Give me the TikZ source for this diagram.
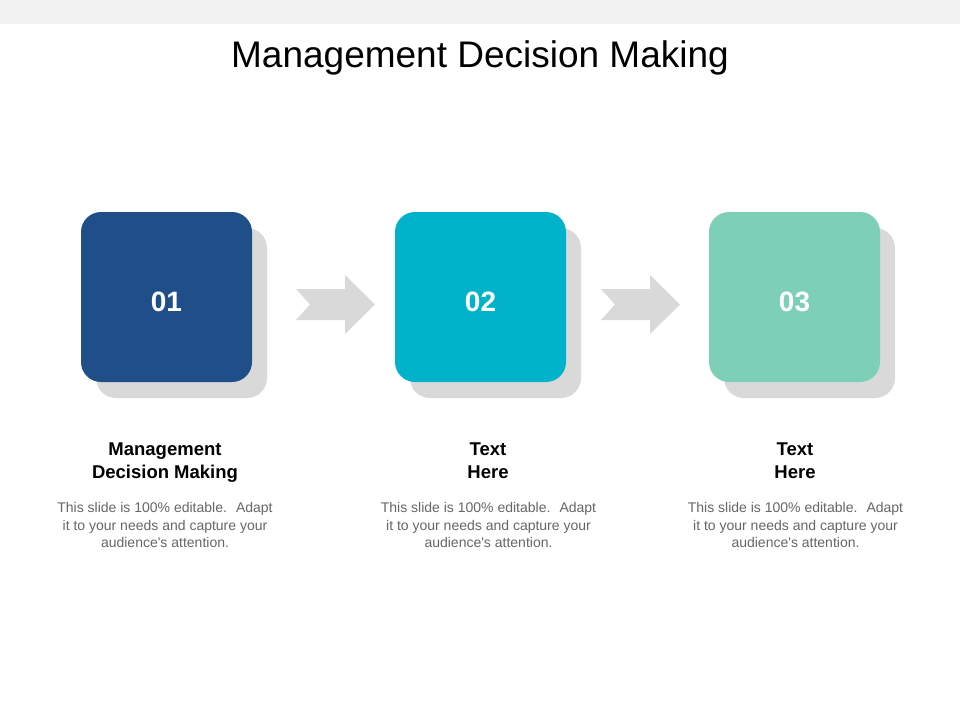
\documentclass[tikz,border=0pt]{standalone}
\usepackage{fontspec}
\setmainfont{Liberation Sans}[Ligatures=TeXOff]
\usetikzlibrary{shadows}
\definecolor{bandgray}{HTML}{F2F2F2}
\definecolor{shadowgray}{HTML}{D9D9D9}
\definecolor{cA}{HTML}{1F4E89}
\definecolor{cB}{HTML}{00B2CA}
\definecolor{cC}{HTML}{7DCFB6}
\definecolor{bodygray}{HTML}{666666}
\tikzset{
  stepbox/.style={minimum width=171pt, minimum height=170pt, inner sep=0pt,
    rounded corners=20pt, text=white, font=\fontsize{28}{30}\selectfont\bfseries,
    text height=28pt, text depth=0pt,
    drop shadow={shadow xshift=15pt, shadow yshift=-16pt, opacity=1, fill=shadowgray}},
  headtext/.style={align=center, font=\fontsize{18.5}{23}\selectfont\bfseries, text=black, inner sep=0pt},
  bodytext/.style={align=center, font=\fontsize{14}{17.5}\selectfont, text=bodygray, inner sep=0pt},
  blockarrow/.style={fill=shadowgray, draw=none}
}
\begin{document}
\begin{tikzpicture}[x=1pt,y=-1pt]
\useasboundingbox (0,0) rectangle (960,720);
\fill[white] (0,0) rectangle (960,720);
\fill[bandgray] (0,0) rectangle (960,24);
\node[font=\fontsize{37}{40}\selectfont, anchor=base, inner sep=0pt] (title) at (480,67) {Management Decision Making};

\node[stepbox, fill=cA] (b1) at (166.5,297) {01};
\node[stepbox, fill=cB] (b2) at (480.5,297) {02};
\node[stepbox, fill=cC] (b3) at (794.5,297) {03};

\foreach \ax in {296,601}{
  \fill[blockarrow] (\ax,289) -- ++(49,0) -- ++(0,-14) -- ++(30,29.5) -- ++(-30,29.5)
    -- ++(0,-14) -- ++(-49,0) -- ++(14,-15.5) -- cycle;
}

\node[headtext] (h1) at (165,463) {Management\\Decision Making};
\node[headtext] (h2) at (488,461) {Text\\Here};
\node[headtext] (h3) at (795,461) {Text\\Here};

\node[bodytext] (t1) at (165,525) {This slide is 100\% editable.~ Adapt\\it to your needs and capture your\\audience's attention.};
\node[bodytext] (t2) at (488.5,525) {This slide is 100\% editable.~ Adapt\\it to your needs and capture your\\audience's attention.};
\node[bodytext] (t3) at (795.5,525) {This slide is 100\% editable.~ Adapt\\it to your needs and capture your\\audience's attention.};
\end{tikzpicture}
\end{document}
